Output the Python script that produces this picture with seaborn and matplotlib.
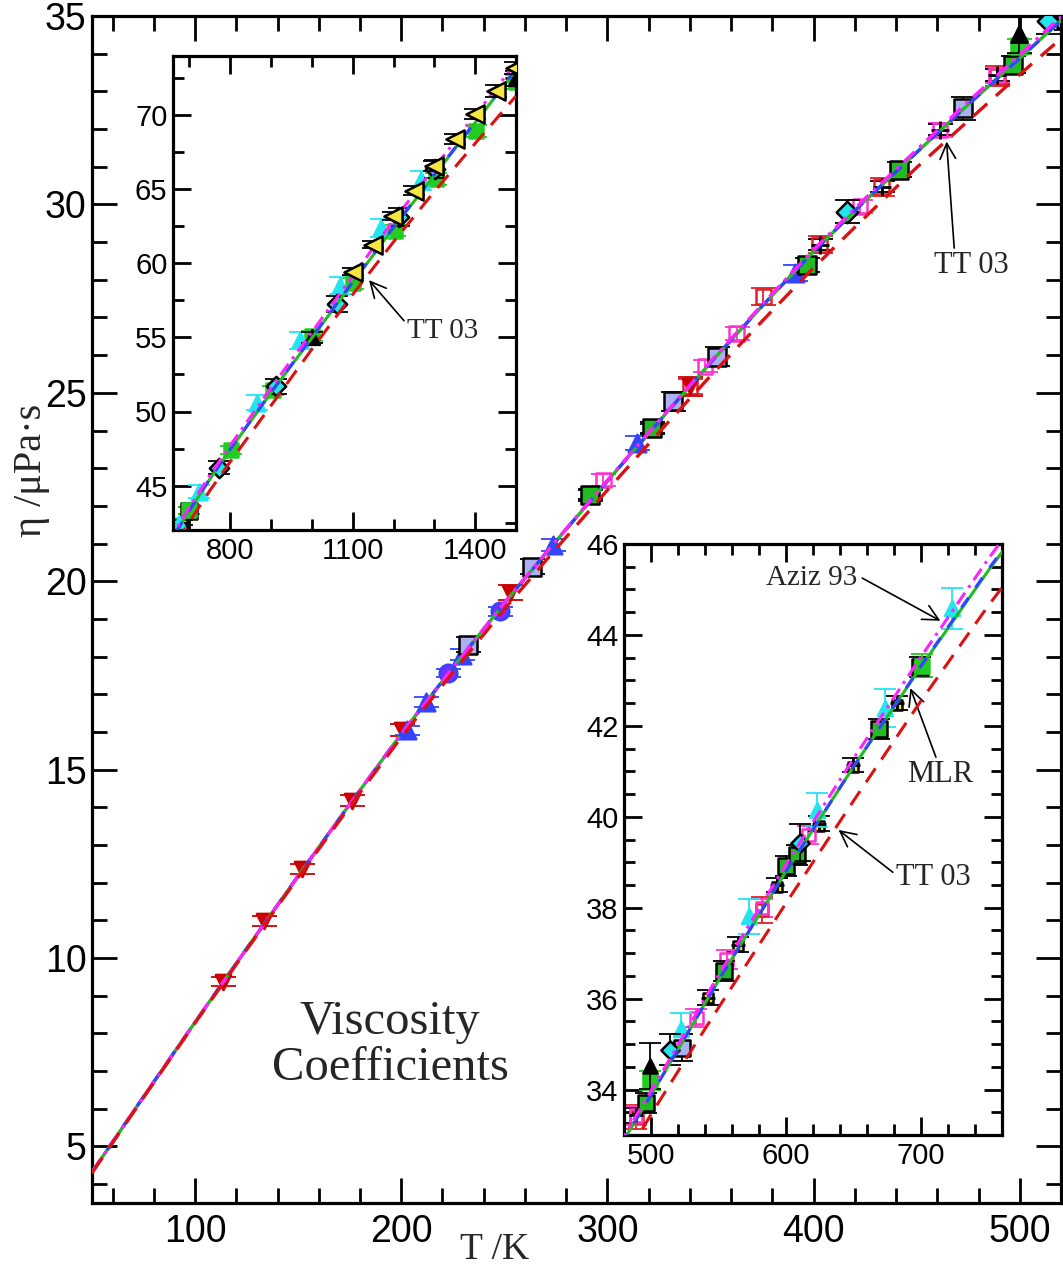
import matplotlib
matplotlib.use("Agg")
import matplotlib.pyplot as plt
import seaborn as sns
from matplotlib.ticker import FixedLocator, MultipleLocator

# ---------------------------------------------------------------
# Model curves for the viscosity of argon, eta in micro-Pa s
# ---------------------------------------------------------------
T_model = [50, 75, 100, 125, 150, 175, 200, 225, 250, 275, 300, 325, 350,
           375, 400, 425, 450, 475, 500, 520, 550, 600, 650, 700, 750, 800,
           900, 1000, 1100, 1200, 1300, 1400, 1500]
eta_mlr = [4.32, 6.32, 8.30, 10.25, 12.18, 14.08, 15.95, 17.70, 19.42, 21.06,
           22.66, 24.24, 25.80, 27.30, 28.75, 30.10, 31.38, 32.65, 33.88,
           34.88, 36.40, 38.80, 41.10, 43.32, 45.45, 47.45, 51.30, 55.00,
           58.75, 62.45, 66.00, 69.55, 73.10]
eta_hfd = [4.32, 6.32, 8.30, 10.25, 12.18, 14.08, 15.95, 17.70, 19.42, 21.06,
           22.66, 24.24, 25.80, 27.30, 28.75, 30.10, 31.38, 32.65, 33.88,
           34.88, 36.40, 38.80, 41.10, 43.30, 45.42, 47.42, 51.26, 54.96,
           58.70, 62.40, 65.95, 69.50, 73.05]
eta_aziz93 = [4.32, 6.32, 8.30, 10.25, 12.18, 14.08, 15.95, 17.70, 19.43,
              21.07, 22.68, 24.26, 25.83, 27.34, 28.80, 30.16, 31.45, 32.73,
              33.97, 34.98, 36.52, 38.95, 41.28, 43.52, 45.68, 47.70, 51.60,
              55.35, 59.15, 62.90, 66.45, 70.00, 73.55]
eta_tt03 = [4.30, 6.30, 8.28, 10.22, 12.14, 14.02, 15.86, 17.58, 19.26,
            20.86, 22.42, 23.95, 25.45, 26.90, 28.32, 29.66, 30.98, 32.22,
            33.45, 34.40, 35.80, 38.10, 40.35, 42.55, 44.65, 46.60, 50.40,
            54.20, 57.90, 61.45, 64.85, 68.10, 71.30]

# ---------------------------------------------------------------
# Experimental data sets (T / K, eta, uncertainty)
# ---------------------------------------------------------------
T_rdt = [113.6, 133.6, 151.8, 176.0, 200.3, 252.7, 340.0]
eta_rdt = [9.37, 10.98, 12.36, 14.18, 16.05, 19.69, 25.17]
err_rdt = [0.12, 0.13, 0.14, 0.15, 0.17, 0.20, 0.25]

T_but = [202.8, 212.0, 229.3, 273.7, 314.2, 391.0]
eta_but = [16.05, 16.80, 18.05, 20.97, 23.67, 28.18]
err_but = [0.12, 0.13, 0.14, 0.16, 0.18, 0.20]

T_lav = [232.5, 263.2, 332.0, 353.0, 472.5, 522.6]
eta_lav = [18.32, 20.39, 24.77, 25.96, 32.55, 34.92]
err_lav = [0.20, 0.20, 0.25, 0.26, 0.30, 0.30]

T_gsq = [291.5, 321.4, 396.6, 441.5, 496.6, 554.0, 600.0, 608.0, 668.6, 699.5]
eta_gsq = [22.29, 24.06, 28.40, 30.92, 33.71, 36.60, 38.91, 39.16, 41.93, 43.30]
err_gsq = [0.15, 0.16, 0.19, 0.20, 0.22, 0.22, 0.22, 0.22, 0.22, 0.22]

T_gsq2 = [499.6, 700.4, 801.5, 904.0, 1001.0, 1102.0, 1203.0, 1304.5, 1401.4, 1500.0]
eta_gsq2 = [34.20, 43.32, 47.41, 51.44, 55.09, 58.65, 62.19, 65.70, 68.95, 72.24]
err_gsq2 = [0.20, 0.25, 0.28, 0.30, 0.33, 0.35, 0.37, 0.40, 0.42, 0.45]

T_cdm = [416.0, 513.8, 610.4, 773.7, 912.8, 1062.7, 1214.4, 1302.0]
eta_cdm = [29.81, 34.88, 39.43, 46.20, 51.70, 57.26, 63.15, 66.35]
err_cdm = [0.30, 0.35, 0.40, 0.45, 0.50, 0.55, 0.60, 0.60]

T_btr = [499.5, 1001.0, 1500.0]
eta_btr = [34.52, 55.00, 72.50]
err_btr = [0.50, 0.40, 0.50]

T_ctr = [521.9, 572.8, 622.8, 673.5, 723.0, 866.0, 971.7, 1068.6, 1169.7, 1266.6]
eta_ctr = [35.33, 37.81, 40.15, 42.39, 44.59, 50.60, 54.80, 58.50, 62.40, 65.60]
err_ctr = [0.35, 0.39, 0.37, 0.41, 0.45, 0.50, 0.55, 0.58, 0.62, 0.66]

T_ylt = [1099.8, 1148.7, 1199.0, 1249.8, 1298.7, 1350.9, 1399.7, 1450.3, 1498.3]
eta_ylt = [59.44, 61.27, 63.20, 64.90, 66.57, 68.40, 70.08, 71.64, 73.20]
err_ylt = [0.25, 0.25, 0.30, 0.30, 0.35, 0.35, 0.35, 0.40, 0.40]

T_vci = [222.8, 247.9]
eta_vci = [17.56, 19.20]
err_vci = [0.10, 0.12]

T_mos = [298.0, 347.3, 362.7, 422.5, 461.3, 488.8, 533.7, 556.0, 582.0, 616.6]
eta_mos = [22.69, 25.70, 26.58, 29.94, 31.98, 33.43, 35.58, 36.86, 37.99, 39.60]
err_mos = [0.15, 0.16, 0.17, 0.18, 0.19, 0.20, 0.20, 0.20, 0.20, 0.20]

T_ros = [340.0, 375.6, 403.0, 433.0, 489.2, 582.0]
eta_ros = [25.17, 27.55, 28.93, 30.47, 33.40, 37.95]
err_ros = [0.20, 0.22, 0.23, 0.24, 0.26, 0.28]

T_bpl = [291.5, 321.4, 403.0, 433.0, 461.3, 488.8, 542.4, 564.6, 593.1,
         624.7, 650.0, 682.2]
eta_bpl = [22.29, 24.06, 28.93, 30.47, 31.98, 33.43, 36.02, 37.19, 38.50,
           39.85, 41.14, 42.50]
err_bpl = [0.12, 0.12, 0.14, 0.15, 0.15, 0.16, 0.16, 0.16, 0.16, 0.16,
           0.16, 0.16]

T_ysq = [542.4, 564.6, 593.1, 624.7, 650.0, 682.2]
eta_ysq = [36.02, 37.15, 38.45, 39.80, 41.10, 42.45]

# tick positions / labels
main_xmajor = [100, 200, 300, 400, 500]
main_ymajor = [5, 10, 15, 20, 25, 30, 35]
in1_xmajor = [800, 1100, 1400]
in1_ymajor = [45, 50, 55, 60, 65, 70]
in2_xmajor = [500, 600, 700]
in2_ymajor = [34, 36, 38, 40, 42, 44, 46]

# ---------------------------------------------------------------
sns.set_theme(style="ticks")
plt.rcParams['font.family'] = ['Liberation Sans', 'DejaVu Sans']
SERIF = ['Liberation Serif', 'DejaVu Serif']

W, H = 1063, 1270
fig = plt.figure(figsize=(W / 100, H / 100), dpi=100)


def px_axes(x0, y0, x1, y1):
    return fig.add_axes([x0 / W, 1 - y1 / H, (x1 - x0) / W, (y1 - y0) / H])


ax = px_axes(92, 16, 1061, 1203)
ax1 = px_axes(173, 56, 516, 530)
ax2 = px_axes(624, 544, 1002, 1135)

# sets: (T, eta, err, marker, face, edge, size, zorder)
DATASETS = [
    (T_ysq, eta_ysq, None, 's', '#f2e600', 'black', 60, 2.0),
    (T_bpl, eta_bpl, err_bpl, '+', 'black', 'black', 150, 2.3),
    (T_ros, eta_ros, err_ros, 's', 'none', '#e0202a', 110, 2.2),
    (T_mos, eta_mos, err_mos, 's', 'none', '#ff33cc', 110, 2.2),
    (T_rdt, eta_rdt, err_rdt, 'v', '#cc0000', '#cc0000', 120, 2.4),
    (T_but, eta_but, err_but, '^', '#3344ff', '#3344ff', 160, 2.4),
    (T_vci, eta_vci, err_vci, 'o', '#7b2cff', '#3344ff', 160, 2.4),
    (T_lav, eta_lav, err_lav, 's', '#aab0f0', 'black', 170, 2.5),
    (T_gsq, eta_gsq, err_gsq, 's', '#22bb22', 'black', 170, 2.5),
    (T_gsq2, eta_gsq2, err_gsq2, 's', '#22cc22', '#22cc22', 130, 2.5),
    (T_ctr, eta_ctr, err_ctr, '^', '#22e5f0', '#22e5f0', 160, 2.5),
    (T_cdm, eta_cdm, err_cdm, 'D', '#22e5f0', 'black', 120, 2.6),
    (T_btr, eta_btr, err_btr, '^', 'black', 'black', 140, 2.6),
    (T_ylt, eta_ylt, err_ylt, '<', '#f5e642', 'black', 210, 4.0),
]


def draw_data(a, scale):
    for T, eta, err, mk, fc, ec, s, z in DATASETS:
        if err is not None:
            ecol = 'black' if mk == 'D' else ec
            a.errorbar(T, eta, yerr=err, fmt='none', ecolor=ecol,
                       elinewidth=1.3, capsize=9 * scale, capthick=1.3,
                       zorder=z - 0.1)
        kw = dict(marker=mk, s=s * scale ** 2, ax=a, zorder=z, legend=False)
        if mk == '+':
            sns.scatterplot(x=T, y=eta, color=ec, linewidth=2.0, **kw)
        else:
            sns.scatterplot(x=T, y=eta, facecolor=fc, edgecolor=ec,
                            linewidth=1.8, **kw)


def draw_models(a, lw):
    sns.lineplot(x=T_model, y=eta_hfd, ax=a, color='#22bb22', lw=lw,
                 estimator=None, sort=False, zorder=3.0)
    sns.lineplot(x=T_model, y=eta_mlr, ax=a, color='#3344ff', lw=lw,
                 estimator=None, sort=False, zorder=3.1,
                 linestyle=(0, (4.0, 4.0)))
    sns.lineplot(x=T_model, y=eta_aziz93, ax=a, color='#ff22ff', lw=lw,
                 estimator=None, sort=False, zorder=3.2,
                 linestyle=(0, (4.5, 2.0, 1.0, 2.0)))
    sns.lineplot(x=T_model, y=eta_tt03, ax=a, color='#dd1111', lw=lw,
                 estimator=None, sort=False, zorder=3.3,
                 linestyle=(0, (5.5, 3.5)))


def style_axes(a, xlim, ylim, xmaj, xmin, ymaj, ymin, lsize, lmaj, lmin,
               xpad, ypad):
    a.set_facecolor('white')
    a.set_xlim(*xlim)
    a.set_ylim(*ylim)
    a.xaxis.set_major_locator(FixedLocator(xmaj))
    a.yaxis.set_major_locator(FixedLocator(ymaj))
    a.xaxis.set_minor_locator(xmin)
    a.yaxis.set_minor_locator(ymin)
    a.set_xticklabels([str(v) for v in xmaj])
    a.set_yticklabels([str(v) for v in ymaj])
    for sp in a.spines.values():
        sp.set_visible(True)
        sp.set_linewidth(2.3)
        sp.set_color('black')
    a.tick_params(which='both', direction='in', top=True, right=True,
                  color='black', width=2.0, labelsize=lsize,
                  labelcolor='black')
    a.tick_params(which='major', length=lmaj)
    a.tick_params(which='minor', length=lmin)
    a.tick_params(axis='x', which='major', pad=xpad)
    a.tick_params(axis='y', which='major', pad=ypad)
    a.set_xlabel('')
    a.set_ylabel('')
    a.grid(False)


# main panel
draw_data(ax, 1.0)
draw_models(ax, 2.4)
style_axes(ax, (50, 520), (3.5, 35), main_xmajor, MultipleLocator(20),
           main_ymajor, MultipleLocator(1), 27, 18, 11, 8, 4)

# high temperature inset
draw_data(ax1, 0.9)
draw_models(ax1, 2.2)
style_axes(ax1, (660, 1500), (42, 74), in1_xmajor, MultipleLocator(100),
           in1_ymajor, MultipleLocator(2.5), 21, 13, 8, 5, 4)

# 480-760 K inset
draw_data(ax2, 0.85)
draw_models(ax2, 2.2)
style_axes(ax2, (480, 760), (33, 46), in2_xmajor, MultipleLocator(20),
           in2_ymajor, MultipleLocator(0.5), 21, 13, 8, 5, 4)

# annotations
arrow = dict(arrowstyle='->', lw=1.2, color='black', mutation_scale=28,
             shrinkA=0, shrinkB=0)
ax.annotate('TT 03', xy=(464.5, 31.67), xytext=(476.3, 28.37),
            fontsize=22, family=SERIF, ha='center', va='center',
            arrowprops=dict(arrow, relpos=(0.28, 1.0)))
ax1.annotate('TT 03', xy=(1140, 58.87), xytext=(1321, 55.43),
             fontsize=21, family=SERIF, ha='center', va='center',
             arrowprops=dict(arrow, relpos=(0.0, 0.75)))
ax2.annotate('Aziz 93', xy=(714.4, 44.31), xytext=(619.3, 45.25),
             fontsize=21, family=SERIF, ha='center', va='center',
             arrowprops=dict(arrow, relpos=(1.05, 0.5)))
ax2.annotate('MLR', xy=(692.1, 42.83), xytext=(714.4, 40.92),
             fontsize=22, family=SERIF, ha='center', va='center',
             arrowprops=dict(arrow, relpos=(0.45, 1.0)))
ax2.annotate('TT 03', xy=(638.9, 39.71), xytext=(709.2, 38.66),
             fontsize=22, family=SERIF, ha='center', va='center',
             arrowprops=dict(arrow, relpos=(0.0, 0.6)))

fig.text(390 / W, 1 - 1045 / H, 'Viscosity\nCoefficients', fontsize=35,
         family=SERIF, ha='center', va='center', linespacing=1.05)
fig.text(495 / W, 1 - 1250 / H, 'T /K', fontsize=27, family=SERIF,
         ha='center', va='center')
fig.text(31 / W, 1 - 470 / H, 'η /μPa·s', fontsize=29, family=SERIF,
         ha='center', va='center', rotation=90)

fig.savefig('out.png', dpi=100, facecolor='white')
